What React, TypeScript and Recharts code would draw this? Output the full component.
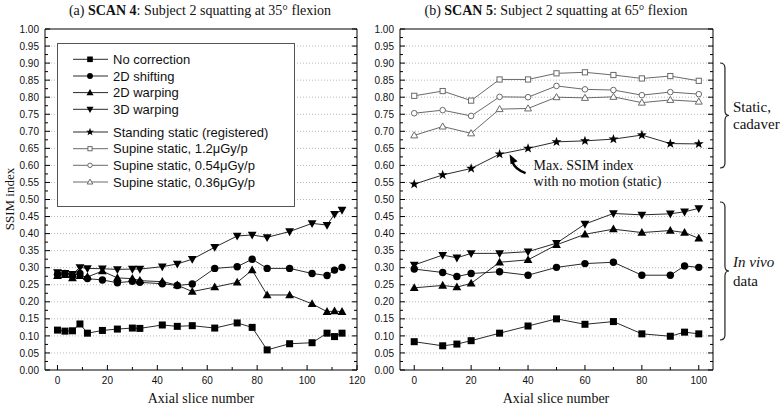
import React from 'react';
import { LineChart, Line, XAxis, YAxis, CartesianGrid, Legend, ReferenceDot } from 'recharts';

const SANS = '"Liberation Sans", Arial, Helvetica, sans-serif';
const SERIF = '"Liberation Serif", "Times New Roman", Times, serif';

// ---------- SCAN 4 (panel a) ----------
const scan4Slices = [0, 3, 6, 9, 12, 18, 24, 30, 33, 42, 48, 54, 63, 72, 78, 84, 93, 102, 108, 111, 114];
const scan4NoCorrection = [0.117, 0.114, 0.115, 0.135, 0.108, 0.116, 0.12, 0.123, 0.122, 0.132, 0.128, 0.13, 0.123, 0.138, 0.125, 0.059, 0.077, 0.08, 0.108, 0.098, 0.108];
const scan4Shift2D = [0.28, 0.283, 0.276, 0.283, 0.268, 0.264, 0.256, 0.26, 0.257, 0.253, 0.248, 0.252, 0.298, 0.303, 0.325, 0.298, 0.298, 0.283, 0.277, 0.293, 0.301];
const scan4Warp2D = [0.276, 0.279, 0.27, 0.276, 0.273, 0.29, 0.27, 0.268, 0.262, 0.259, 0.249, 0.23, 0.243, 0.257, 0.293, 0.22, 0.22, 0.194, 0.171, 0.173, 0.171];
const scan4Warp3D = [0.286, 0.284, 0.281, 0.301, 0.298, 0.297, 0.295, 0.296, 0.296, 0.303, 0.311, 0.325, 0.36, 0.393, 0.396, 0.389, 0.406, 0.43, 0.425, 0.457, 0.469];

// ---------- SCAN 5 (panel b) ----------
const scan5Slices = [0, 10, 15, 20, 30, 40, 50, 60, 70, 80, 90, 95, 100];
const scan5NoCorrection = [0.083, 0.071, 0.076, 0.086, 0.108, 0.129, 0.15, 0.134, 0.142, 0.106, 0.099, 0.111, 0.106];
const scan5Shift2D = [0.296, 0.286, 0.274, 0.283, 0.288, 0.278, 0.301, 0.312, 0.316, 0.278, 0.278, 0.305, 0.301];
const scan5Warp2D = [0.241, 0.248, 0.243, 0.254, 0.316, 0.323, 0.367, 0.398, 0.413, 0.403, 0.409, 0.403, 0.386];
const scan5Warp3D = [0.308, 0.337, 0.329, 0.342, 0.342, 0.347, 0.372, 0.428, 0.459, 0.455, 0.458, 0.464, 0.474];

const staticSlices = [0, 10, 20, 30, 40, 50, 60, 70, 80, 90, 100];
const standingStatic = [0.545, 0.572, 0.591, 0.633, 0.65, 0.669, 0.672, 0.677, 0.689, 0.664, 0.663];
const supine12 = [0.804, 0.818, 0.79, 0.852, 0.852, 0.87, 0.873, 0.865, 0.855, 0.862, 0.848];
const supine054 = [0.753, 0.762, 0.745, 0.801, 0.8, 0.833, 0.823, 0.821, 0.806, 0.815, 0.809];
const supine036 = [0.688, 0.714, 0.694, 0.765, 0.767, 0.8, 0.798, 0.801, 0.784, 0.792, 0.787];

// ---------- ticks ----------
const yMajorTicks = [0, 0.05, 0.1, 0.15, 0.2, 0.25, 0.3, 0.35, 0.4, 0.45, 0.5, 0.55, 0.6, 0.65, 0.7, 0.75, 0.8, 0.85, 0.9, 0.95, 1];
const yMinorTicks = [0.025, 0.075, 0.125, 0.175, 0.225, 0.275, 0.325, 0.375, 0.425, 0.475, 0.525, 0.575, 0.625, 0.675, 0.725, 0.775, 0.825, 0.875, 0.925, 0.975];
const gridValues = [0.05, 0.1, 0.15, 0.2, 0.25, 0.3, 0.35, 0.4, 0.45, 0.5, 0.55, 0.6, 0.65, 0.7, 0.75, 0.8, 0.85, 0.9, 0.95];
const xMajorA = [0, 20, 40, 60, 80, 100, 120];
const xMinorA = [10, 30, 50, 70, 90, 110];
const xMajorB = [0, 20, 40, 60, 80, 100];
const xMinorB = [10, 30, 50, 70, 90];

const legendNames = [
  'No correction',
  '2D shifting',
  '2D warping',
  '3D warping',
  'Standing static (registered)',
  'Supine static, 1.2\u03bcGy/p',
  'Supine static, 0.54\u03bcGy/p',
  'Supine static, 0.36\u03bcGy/p',
];
const legendKinds = ['square', 'circle', 'triUp', 'triDown', 'star', 'openSquare', 'openCircle', 'openTri'];

const yTicks = [...yMajorTicks, ...yMinorTicks].sort((a, b) => a - b);
const rows = (xs: number[], ys: number[]) => xs.map((x, i) => ({ x, y: ys[i] }));

const DARK = '#2a2a2a';
const GREY = '#6a6a6a';

function Marker({ kind, cx, cy, s = 1 }: { kind: string; cx: number; cy: number; s?: number }) {
  if (cx == null || cy == null || isNaN(cx) || isNaN(cy)) return null;
  switch (kind) {
    case 'square':
      return <rect x={cx - 3.5 * s} y={cy - 3.5 * s} width={7 * s} height={7 * s} fill="#000" />;
    case 'circle':
      return <circle cx={cx} cy={cy} r={3.7 * s} fill="#000" />;
    case 'triUp':
      return <polygon points={`${cx},${cy - 4.6 * s} ${cx + 4.4 * s},${cy + 3.2 * s} ${cx - 4.4 * s},${cy + 3.2 * s}`} fill="#000" />;
    case 'triDown':
      return <polygon points={`${cx},${cy + 4.6 * s} ${cx + 4.4 * s},${cy - 3.2 * s} ${cx - 4.4 * s},${cy - 3.2 * s}`} fill="#000" />;
    case 'star': {
      const pts: string[] = [];
      for (let i = 0; i < 10; i++) {
        const r = (i % 2 === 0 ? 5.2 : 2.1) * s;
        const a = -Math.PI / 2 + (i * Math.PI) / 5;
        pts.push(`${cx + r * Math.cos(a)},${cy + r * Math.sin(a)}`);
      }
      return <polygon points={pts.join(' ')} fill="#000" />;
    }
    case 'openSquare':
      return <rect x={cx - 2.6 * s} y={cy - 2.6 * s} width={5.2 * s} height={5.2 * s} fill="#fff" stroke={GREY} strokeWidth={1} />;
    case 'openCircle':
      return <circle cx={cx} cy={cy} r={2.8 * s} fill="#fff" stroke={GREY} strokeWidth={1} />;
    case 'openTri':
      return <polygon points={`${cx},${cy - 3.6 * s} ${cx + 3.5 * s},${cy + 2.5 * s} ${cx - 3.5 * s},${cy + 2.5 * s}`} fill="#fff" stroke={GREY} strokeWidth={1} />;
    default:
      return null;
  }
}

const dotFor = (kind: string) => (p: any) => <Marker key={`${kind}-${p.index}`} kind={kind} cx={p.cx} cy={p.cy} />;

const LeftYTick = (props: any) => {
  const { x, y, payload } = props;
  const major = yMajorTicks.includes(payload.value);
  const ax = x + 6;
  return (
    <g>
      <line x1={ax} x2={ax + (major ? 5 : 3)} y1={y} y2={y} stroke="#000" strokeWidth={1} />
      {major && (
        <text x={x} y={y + 3.6} textAnchor="end" fontSize={10} fontFamily={SANS} fill="#111">
          {payload.value.toFixed(2)}
        </text>
      )}
    </g>
  );
};

const RightYTick = (props: any) => {
  const { x, y, payload } = props;
  const major = yMajorTicks.includes(payload.value);
  return <line x1={x} x2={x - (major ? 5 : 3)} y1={y} y2={y} stroke="#000" strokeWidth={1} />;
};

const makeBottomTick = (majors: number[]) => (props: any) => {
  const { x, y, payload } = props;
  const major = majors.includes(payload.value);
  return (
    <g>
      <line x1={x} x2={x} y1={y} y2={y - (major ? 5 : 3)} stroke="#000" strokeWidth={1} />
      {major && (
        <text x={x} y={y + 14} textAnchor="middle" fontSize={10} fontFamily={SANS} fill="#111">
          {payload.value}
        </text>
      )}
    </g>
  );
};

const makeTopTick = (majors: number[]) => (props: any) => {
  const { x, y, payload } = props;
  const major = majors.includes(payload.value);
  return <line x1={x} x2={x} y1={y} y2={y + (major ? 5 : 3)} stroke="#000" strokeWidth={1} />;
};

const legendRowY = [16.3, 33, 49.6, 66.3, 89, 105.7, 122.3, 139];

function LegendBox() {
  return (
    <svg width={238} height={164} style={{ display: 'block' }}>
      <rect x={0.5} y={0.5} width={237} height={163} fill="#fff" stroke="#555" strokeWidth={1} />
      {legendNames.map((name, i) => {
        const y = legendRowY[i];
        const open = i >= 5;
        return (
          <g key={name}>
            <line x1={16} x2={51} y1={y} y2={y} stroke={open ? GREY : DARK} strokeWidth={1} />
            <Marker kind={legendKinds[i]} cx={33} cy={y} s={0.8} />
            <text x={56} y={y + 4.6} fontSize={13} fontFamily={SANS} fill="#111">
              {name}
            </text>
          </g>
        );
      })}
    </svg>
  );
}

function Annotation({ cx, cy }: { cx: number; cy: number }) {
  if (cx == null || cy == null) return null;
  const tx = cx + 10;
  const ty = cy;
  return (
    <g>
      <path d={`M ${cx + 26} ${cy + 19} Q ${cx + 15} ${cy + 15} ${cx + 12.5} ${cy + 7}`} fill="none" stroke="#000" strokeWidth={2.4} />
      <polygon points={`${tx},${ty} ${tx + 8},${ty + 7} ${tx + 1},${ty + 10}`} fill="#000" />
      <text x={cx + 34} y={cy + 16} fontSize={14} fontFamily={SERIF} fill="#111">Max. SSIM index</text>
      <text x={cx + 34} y={cy + 32} fontSize={14} fontFamily={SERIF} fill="#111">with no motion (static)</text>
    </g>
  );
}

function bracePath(x: number, y1: number, y2: number, w: number) {
  const ym = (y1 + y2) / 2;
  const xv = x + w * 0.55;
  const r = 5;
  return `M ${x} ${y1} Q ${xv} ${y1} ${xv} ${y1 + r} L ${xv} ${ym - r} Q ${xv} ${ym} ${x + w} ${ym} Q ${xv} ${ym} ${xv} ${ym + r} L ${xv} ${y2 - r} Q ${xv} ${y2} ${x} ${y2}`;
}

const motionA = [
  { key: 'nc', data: rows(scan4Slices, scan4NoCorrection), kind: 'square' },
  { key: 's2', data: rows(scan4Slices, scan4Shift2D), kind: 'circle' },
  { key: 'w2', data: rows(scan4Slices, scan4Warp2D), kind: 'triUp' },
  { key: 'w3', data: rows(scan4Slices, scan4Warp3D), kind: 'triDown' },
];
const motionB = [
  { key: 'nc', data: rows(scan5Slices, scan5NoCorrection), kind: 'square', color: DARK },
  { key: 's2', data: rows(scan5Slices, scan5Shift2D), kind: 'circle', color: DARK },
  { key: 'w2', data: rows(scan5Slices, scan5Warp2D), kind: 'triUp', color: DARK },
  { key: 'w3', data: rows(scan5Slices, scan5Warp3D), kind: 'triDown', color: DARK },
  { key: 'st', data: rows(staticSlices, standingStatic), kind: 'star', color: DARK },
  { key: 'p12', data: rows(staticSlices, supine12), kind: 'openSquare', color: GREY },
  { key: 'p054', data: rows(staticSlices, supine054), kind: 'openCircle', color: GREY },
  { key: 'p036', data: rows(staticSlices, supine036), kind: 'openTri', color: GREY },
];

function Axes({ xDomain, xMajor, xMinor }: { xDomain: number[]; xMajor: number[]; xMinor: number[] }) {
  const xt = [...xMajor, ...xMinor].sort((a, b) => a - b);
  return null as any;
}

export default function App() {
  const xTicksA = [...xMajorA, ...xMinorA].sort((a, b) => a - b);
  const xTicksB = [...xMajorB, ...xMinorB].sort((a, b) => a - b);
  return (
    <div style={{ position: 'absolute', left: 0, top: 0, width: 784, height: 406, background: '#fff', overflow: 'hidden' }}>
      <div style={{ position: 'absolute', left: 0, top: 0 }}>
        <LineChart width={392} height={406} margin={{ top: 28, right: 34, bottom: 16, left: 0 }}>
          <CartesianGrid vertical={false} horizontalValues={gridValues} stroke="#b8b8b8" strokeDasharray="1 2" />
          <XAxis xAxisId={0} type="number" dataKey="x" domain={[-5, 120]} allowDataOverflow ticks={xTicksA} interval={0}
            orientation="bottom" height={20} tickSize={0} tickMargin={0} tickLine={false} axisLine={{ stroke: '#000' }} tick={makeBottomTick(xMajorA)} />
          <XAxis xAxisId="t" type="number" domain={[-5, 120]} allowDataOverflow ticks={xTicksA} interval={0}
            orientation="top" height={1} tickSize={0} tickMargin={0} tickLine={false} axisLine={{ stroke: '#000' }} tick={makeTopTick(xMajorA)} />
          <YAxis yAxisId={0} type="number" domain={[0, 1]} allowDataOverflow ticks={yTicks} interval={0}
            width={45} tickSize={0} tickMargin={6} tickLine={false} axisLine={{ stroke: '#000' }} tick={LeftYTick} />
          <YAxis yAxisId="r" orientation="right" type="number" domain={[0, 1]} allowDataOverflow ticks={yTicks} interval={0}
            width={1} tickSize={0} tickMargin={0} tickLine={false} axisLine={{ stroke: '#000' }} tick={RightYTick} />
          {motionA.map((s) => (
            <Line key={s.key} data={s.data} dataKey="y" type="linear" stroke={DARK} strokeWidth={1}
              dot={dotFor(s.kind)} activeDot={false} isAnimationActive={false} legendType="none" />
          ))}
          <Legend content={() => <LegendBox />} layout="vertical" align="center" verticalAlign="middle"
            wrapperStyle={{ left: 57, top: 43, width: 238, height: 164 }} />
        </LineChart>
      </div>
      <div style={{ position: 'absolute', left: 355, top: 0 }}>
        <LineChart width={429} height={406} margin={{ top: 28, right: 70, bottom: 16, left: 0 }}>
          <CartesianGrid vertical={false} horizontalValues={gridValues} stroke="#b8b8b8" strokeDasharray="1 2" />
          <XAxis xAxisId={0} type="number" dataKey="x" domain={[-5, 105]} allowDataOverflow ticks={xTicksB} interval={0}
            orientation="bottom" height={20} tickSize={0} tickMargin={0} tickLine={false} axisLine={{ stroke: '#000' }} tick={makeBottomTick(xMajorB)} />
          <XAxis xAxisId="t" type="number" domain={[-5, 105]} allowDataOverflow ticks={xTicksB} interval={0}
            orientation="top" height={1} tickSize={0} tickMargin={0} tickLine={false} axisLine={{ stroke: '#000' }} tick={makeTopTick(xMajorB)} />
          <YAxis yAxisId={0} type="number" domain={[0, 1]} allowDataOverflow ticks={yTicks} interval={0}
            width={45} tickSize={0} tickMargin={6} tickLine={false} axisLine={{ stroke: '#000' }} tick={LeftYTick} />
          <YAxis yAxisId="r" orientation="right" type="number" domain={[0, 1]} allowDataOverflow ticks={yTicks} interval={0}
            width={1} tickSize={0} tickMargin={0} tickLine={false} axisLine={{ stroke: '#000' }} tick={RightYTick} />
          {motionB.map((s) => (
            <Line key={s.key} data={s.data} dataKey="y" type="linear" stroke={s.color} strokeWidth={1}
              dot={dotFor(s.kind)} activeDot={false} isAnimationActive={false} legendType="none" />
          ))}
          <ReferenceDot x={staticSlices[3]} y={standingStatic[3]} r={0} ifOverflow="visible"
            shape={(p: any) => <Annotation cx={p.cx} cy={p.cy} />} />
        </LineChart>
      </div>
      <svg width={784} height={406} style={{ position: 'absolute', left: 0, top: 0, pointerEvents: 'none' }}>
        <text x={200} y={15} textAnchor="middle" fontSize={14} fontFamily={SERIF} fill="#111">
          (a) <tspan fontWeight="bold">SCAN 4</tspan>: Subject 2 squatting at 35° flexion
        </text>
        <text x={556} y={15} textAnchor="middle" fontSize={14} fontFamily={SERIF} fill="#111">
          (b) <tspan fontWeight="bold">SCAN 5</tspan>: Subject 2 squatting at 65° flexion
        </text>
        <text x={201} y={403} textAnchor="middle" fontSize={14} fontFamily={SERIF} fill="#111">Axial slice number</text>
        <text x={556} y={403} textAnchor="middle" fontSize={14} fontFamily={SERIF} fill="#111">Axial slice number</text>
        <text transform="translate(14,199) rotate(-90)" textAnchor="middle" fontSize={13} fontFamily={SERIF} fill="#111">SSIM index</text>
        <path d={bracePath(720, 63, 168, 9)} fill="none" stroke="#222" strokeWidth={1.2} />
        <text x={733} y={112} fontSize={15} fontFamily={SERIF} fill="#111">Static,</text>
        <text x={733} y={129} fontSize={15} fontFamily={SERIF} fill="#111">cadaver</text>
        <path d={bracePath(720, 202, 340, 9)} fill="none" stroke="#222" strokeWidth={1.2} />
        <text x={733} y={267} fontSize={15} fontFamily={SERIF} fontStyle="italic" fill="#111">In vivo</text>
        <text x={733} y={286} fontSize={15} fontFamily={SERIF} fill="#111">data</text>
      </svg>
    </div>
  );
}
